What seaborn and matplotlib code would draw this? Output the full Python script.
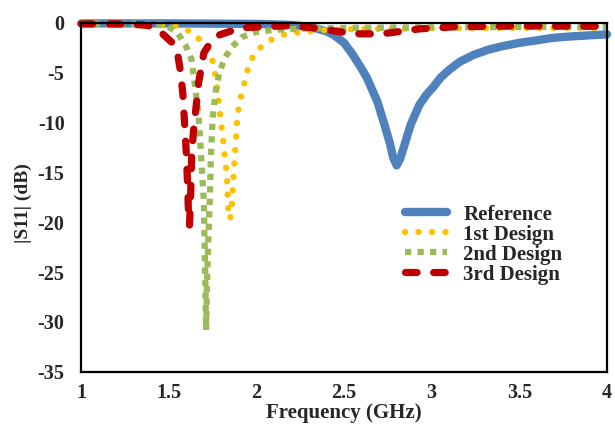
import numpy as np
import pandas as pd
import matplotlib
matplotlib.use("Agg")
import matplotlib.pyplot as plt
import seaborn as sns

# ---- data ----
ref_x = [1.0, 1.5, 2.0, 2.2, 2.3, 2.35, 2.4, 2.44, 2.5, 2.55, 2.6, 2.63, 2.66, 2.69, 2.73, 2.76, 2.78, 2.8,
         2.82, 2.84, 2.88, 2.93, 2.97, 3.01, 3.05, 3.1, 3.16, 3.24, 3.32, 3.4, 3.5, 3.6, 3.69, 3.8, 3.9, 4.0]
ref_y = [-0.05, -0.05, -0.1, -0.2, -0.4, -0.6, -0.85, -1.2, -2.0, -3.2, -4.6, -5.5, -6.7, -7.9, -10.2, -12.0, -13.5, -14.3,
         -13.6, -12.5, -10.2, -8.2, -7.2, -6.4, -5.5, -4.7, -3.9, -3.2, -2.7, -2.35, -2.0, -1.75, -1.5, -1.35, -1.25, -1.15]

d1_x = [1.0, 1.3, 1.45, 1.54, 1.63, 1.69, 1.74, 1.77, 1.79, 1.81, 1.83, 1.84, 1.85,
        1.86, 1.87, 1.88, 1.89, 1.90, 1.92, 1.94, 1.96, 2.0, 2.07, 2.15, 2.24, 2.4, 2.6, 2.8, 3.0, 3.5, 4.0]
d1_y = [-0.05, -0.1, -0.15, -0.3, -0.9, -1.9, -3.0, -5.6, -8.8, -11.8, -15.1, -18.9, -19.7,
        -18.2, -15.0, -12.5, -9.8, -8.3, -6.8, -5.4, -4.0, -2.8, -1.8, -1.2, -0.95, -0.7, -0.6, -0.6, -0.55, -0.5, -0.5]

d2_x = [1.0, 1.3, 1.45, 1.49, 1.55, 1.6, 1.63, 1.65, 1.67, 1.68, 1.69, 1.70, 1.703, 1.707, 1.71, 1.713,
        1.718, 1.725, 1.735, 1.74, 1.75, 1.77, 1.79, 1.82, 1.86, 1.92, 2.0, 2.1, 2.3, 2.6, 3.0, 3.5, 4.0]
d2_y = [-0.05, -0.1, -0.15, -0.3, -1.0, -2.4, -3.7, -6.4, -9.3, -12.1, -15.1, -17.9, -21.2, -24.6, -28.0, -30.8,
        -26.0, -22.0, -17.0, -13.5, -9.5, -6.5, -4.9, -3.5, -2.4, -1.4, -0.9, -0.7, -0.55, -0.5, -0.45, -0.4, -0.4]

d3_x = [1.0, 1.2, 1.3, 1.38, 1.44, 1.52, 1.55, 1.565, 1.58, 1.59, 1.60, 1.607, 1.613, 1.618,
        1.625, 1.63, 1.64, 1.655, 1.67, 1.685, 1.70, 1.74, 1.79, 1.84, 1.91, 2.02, 2.17, 2.3, 2.4, 2.5,
        2.59, 2.7, 2.76, 2.93, 3.12, 3.5, 4.0]
d3_y = [-0.1, -0.1, -0.15, -0.25, -0.7, -2.0, -3.1, -4.7, -7.1, -10.1, -13.1, -16.2, -19.5, -20.3,
        -17.0, -13.5, -11.0, -8.5, -6.0, -4.5, -3.0, -1.9, -1.2, -0.9, -0.5, -0.4, -0.3, -0.45, -0.7, -0.95,
        -1.1, -1.1, -1.0, -0.6, -0.4, -0.3, -0.35]

labels = ["Reference", "1st Design", "2nd Design", "3rd Design"]
colors = ["#4F81BD", "#FFC000", "#9BBB59", "#C00000"]

xticks = [1, 1.5, 2, 2.5, 3, 3.5, 4]
xticklabels = ["1", "1.5", "2", "2.5", "3", "3.5", "4"]
yticks = [0, -5, -10, -15, -20, -25, -30, -35]

# ---- plotting ----
sns.set_theme(style="white")
plt.rcParams["font.family"] = ["Liberation Serif", "DejaVu Serif"]
plt.rcParams["font.weight"] = "bold"

fig = plt.figure(figsize=(6.15, 4.24), dpi=100)
ax = fig.add_axes([0.132, 0.123, 0.855, 0.823])

series = [(ref_x, ref_y), (d1_x, d1_y), (d2_x, d2_y), (d3_x, d3_y)]
for (xs, ys), lab, col in zip(series, labels, colors):
    df = pd.DataFrame({"f": xs, "s11": ys})
    sns.lineplot(data=df, x="f", y="s11", ax=ax, color=col, label=lab, legend=False,
                 sort=False, estimator=None, clip_on=False)

lines = ax.get_lines()
for ln in lines:
    ln.set_solid_joinstyle("round")
    ln.set_dash_joinstyle("round")
# Reference: solid thick
lines[0].set_linewidth(6.0)
lines[0].set_solid_capstyle("round")
# 1st: round dots
lines[1].set_linewidth(4.6)
lines[1].set_dashes([0.01, 2.1])
lines[1].set_dash_capstyle("round")
# 2nd: square dots
lines[2].set_linewidth(4.5)
lines[2].set_dashes([1.0, 1.0])
lines[2].set_dash_capstyle("butt")
# 3rd: round-capped dashes
lines[3].set_linewidth(5.2)
lines[3].set_dashes([1.6, 2.3])
lines[3].set_dash_capstyle("round")

ax.set_xlim(1, 4)
ax.set_ylim(-35, 0)
ax.set_xticks(xticks)
ax.set_xticklabels(xticklabels)
ax.set_yticks(yticks)
ax.set_yticklabels([str(v) for v in yticks])

for sp in ax.spines.values():
    sp.set_color("black")
    sp.set_linewidth(1.6)
    sp.set_visible(True)

ax.tick_params(axis="x", direction="in", length=3, width=1, color="#BBBBBB",
               labelsize=14.5, pad=8)
ax.tick_params(axis="y", length=0, labelsize=14.5, pad=12)
for t in ax.get_xticklabels() + ax.get_yticklabels():
    t.set_fontweight("bold")

ax.set_xlabel("Frequency (GHz)", fontsize=15, fontweight="bold", labelpad=0)
ax.set_ylabel("|S11| (dB)", fontsize=14, fontweight="bold", labelpad=2)
ax.yaxis.set_label_coords(-0.093, 0.484)

leg = ax.legend(handles=lines, labels=labels, loc="upper left",
                bbox_to_anchor=(0.6, 0.503), frameon=False, fontsize=15,
                handlelength=2.0, handletextpad=0.8, labelspacing=0.0,
                borderaxespad=0)
for t in leg.get_texts():
    t.set_fontweight("bold")

fig.savefig("out.png", dpi=100)
